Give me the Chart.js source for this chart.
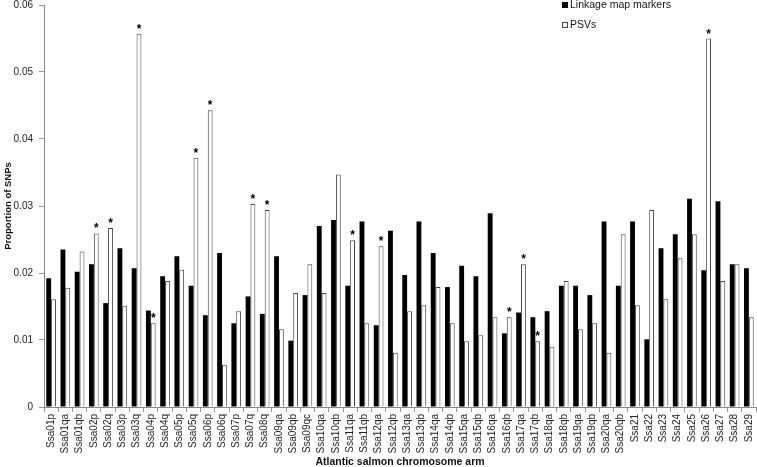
<!DOCTYPE html>
<html>
<head>
<meta charset="utf-8">
<script src="https://cdn.jsdelivr.net/npm/chart.js@4"></script>
<style>
  html, body { margin: 0; padding: 0; background: #fff; }
  #wrap { width: 757px; height: 467px; position: relative; }
</style>
</head>
<body>
<div id="wrap"><canvas id="snpChart" width="757" height="467"></canvas></div>
<script>
// chromosome arms along the x axis
var categories = ["Ssa01p", "Ssa01qa", "Ssa01qb", "Ssa02p", "Ssa02q", "Ssa03p", "Ssa03q", "Ssa04p", "Ssa04q", "Ssa05p",
  "Ssa05q", "Ssa06p", "Ssa06q", "Ssa07p", "Ssa07q", "Ssa08q", "Ssa09qa", "Ssa09qb", "Ssa09qc", "Ssa10qa",
  "Ssa10qb", "Ssa11qa", "Ssa11qb", "Ssa12qa", "Ssa12qb", "Ssa13qa", "Ssa13qb", "Ssa14qa", "Ssa14qb", "Ssa15qa",
  "Ssa15qb", "Ssa16qa", "Ssa16qb", "Ssa17qa", "Ssa17qb", "Ssa18qa", "Ssa18qb", "Ssa19qa", "Ssa19qb", "Ssa20qa",
  "Ssa20qb", "Ssa21", "Ssa22", "Ssa23", "Ssa24", "Ssa25", "Ssa26", "Ssa27", "Ssa28", "Ssa29"];

var linkageMarkers = [0.0192, 0.0235, 0.0202, 0.0213, 0.0155, 0.0237, 0.0207, 0.0144, 0.0195, 0.0225,
  0.0181, 0.0137, 0.0230, 0.0125, 0.0165, 0.0139, 0.0225, 0.0099, 0.0167, 0.0270,
  0.0279, 0.0181, 0.0277, 0.0122, 0.0263, 0.0197, 0.0277, 0.0230, 0.0179, 0.0211,
  0.0195, 0.0289, 0.0110, 0.0141, 0.0134, 0.0143, 0.0181, 0.0181, 0.0167, 0.0277,
  0.0181, 0.0277, 0.0101, 0.0237, 0.0258, 0.0311, 0.0204, 0.0307, 0.0213, 0.0207];

var psvs = [0.0161, 0.0178, 0.0232, 0.0259, 0.0267, 0.0151, 0.0557, 0.0125, 0.0188, 0.0205,
  0.0372, 0.0443, 0.0063, 0.0143, 0.0303, 0.0294, 0.0116, 0.0170, 0.0213, 0.0170,
  0.0347, 0.0249, 0.0125, 0.0240, 0.0081, 0.0143, 0.0152, 0.0179, 0.0125, 0.0098,
  0.0107, 0.0134, 0.0134, 0.0213, 0.0098, 0.0090, 0.0188, 0.0116, 0.0125, 0.0081,
  0.0258, 0.0152, 0.0294, 0.0161, 0.0222, 0.0258, 0.0550, 0.0188, 0.0213, 0.0134];

// arms where the PSV proportion is marked significant
var starred = ["Ssa02p", "Ssa02q", "Ssa03q", "Ssa04p", "Ssa05q", "Ssa06p", "Ssa07q", "Ssa08q",
  "Ssa11qa", "Ssa12qa", "Ssa16qb", "Ssa17qa", "Ssa17qb", "Ssa26"];

var yTicks = [0, 0.01, 0.02, 0.03, 0.04, 0.05, 0.06];

Chart.defaults.font.family = "'Liberation Sans', Arial, sans-serif";
Chart.defaults.color = '#222';

// asterisks above the flagged PSV bars
var starPlugin = {
  id: 'stars',
  afterDatasetsDraw: function(chart) {
    var meta = chart.getDatasetMeta(1);
    var c = chart.ctx;
    c.save();
    c.fillStyle = '#000';
    c.font = 'bold 12px "Liberation Sans", Arial, sans-serif';
    c.textAlign = 'center';
    c.textBaseline = 'alphabetic';
    categories.forEach(function(cat, i) {
      if (starred.indexOf(cat) < 0) return;
      var bar = meta.data[i];
      c.fillText('*', bar.x, bar.y - 1);
    });
    c.restore();
  }
};

// legend stacked in the top right corner
var legendPlugin = {
  id: 'stackedLegend',
  afterDraw: function(chart) {
    var c = chart.ctx;
    var x = 562, y = 5;
    c.save();
    c.font = '10.5px "Liberation Sans", Arial, sans-serif';
    c.textBaseline = 'middle';
    chart.data.datasets.forEach(function(ds, i) {
      var yy = y + i * 20;
      c.fillStyle = ds.backgroundColor;
      c.fillRect(x, yy - 3, 6, 6);
      c.strokeStyle = ds.borderColor;
      c.lineWidth = 1;
      c.strokeRect(x + 0.5, yy - 2.5, 5, 5);
      c.fillStyle = '#111';
      c.fillText(ds.label, x + 8, yy);
    });
    c.restore();
  }
};

var ctx = document.getElementById('snpChart').getContext('2d');
var chart = new Chart(ctx, {
  type: 'bar',
  data: {
    labels: categories,
    datasets: [{
      label: 'Linkage map markers',
      data: linkageMarkers,
      backgroundColor: '#000',
      borderColor: '#000',
      borderWidth: 0
    }, {
      label: 'PSVs',
      data: psvs,
      backgroundColor: '#fff',
      borderColor: '#444',
      borderWidth: 1
    }]
  },
  options: {
    responsive: false,
    animation: false,
    devicePixelRatio: 1,
    layout: { padding: { top: 5, right: 1, left: 0, bottom: 0 } },
    datasets: { bar: { categoryPercentage: 0.68, barPercentage: 1.0 } },
    plugins: {
      legend: { display: false },
      tooltip: { enabled: false }
    },
    scales: {
      x: {
        grid: { drawOnChartArea: false, drawTicks: true, tickLength: 5, color: '#999' },
        border: { color: '#888' },
        ticks: { maxRotation: 90, minRotation: 90, autoSkip: false, padding: 2,
                 font: { size: 10 }, color: '#222' },
        title: { display: true, text: 'Atlantic salmon chromosome arm',
                 font: { size: 10.5, weight: 'bold', lineHeight: 1 }, color: '#111', padding: 0 },
        afterFit: function(s) { s.height = 60; s.paddingLeft = 0; s.paddingRight = 0; }
      },
      y: {
        min: 0,
        max: 0.06,
        afterBuildTicks: function(s) { s.ticks = yTicks.map(function(v) { return { value: v }; }); },
        grid: { drawOnChartArea: false, drawTicks: true, tickLength: 5, color: '#999' },
        border: { color: '#888' },
        ticks: { padding: 6, font: { size: 10 }, color: '#222',
                 callback: function(v) { return String(+v.toFixed(2)); } },
        title: { display: true, text: 'Proportion of SNPs',
                 font: { size: 9.5, weight: 'bold' }, color: '#111', padding: { top: 3, bottom: 0 } },
        afterFit: function(s) { s.width = 44; s.paddingTop = 0; s.paddingBottom = 0; }
      }
    }
  },
  plugins: [starPlugin, legendPlugin]
});
</script>
</body>
</html>
